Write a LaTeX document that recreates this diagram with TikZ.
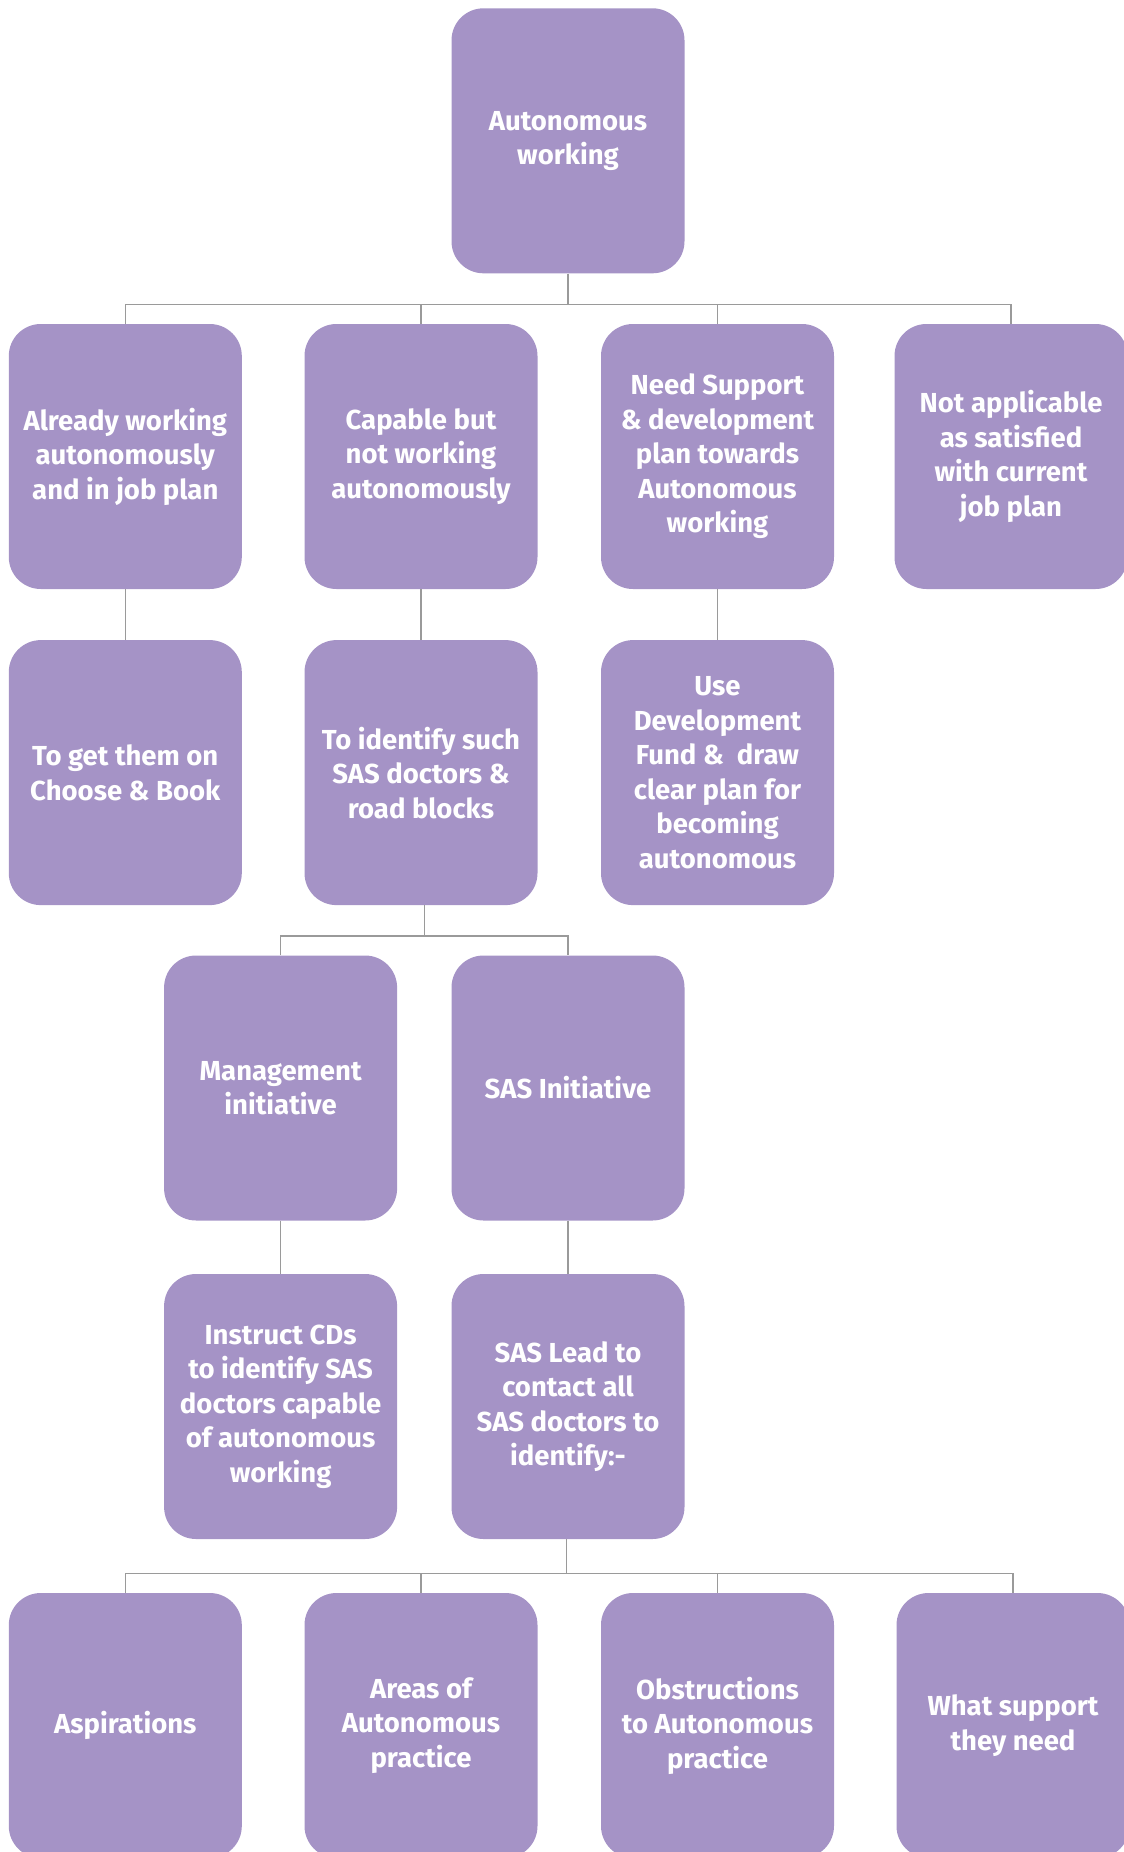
\documentclass[tikz,border=0pt]{standalone}
\usepackage{fontspec}
\setmainfont{Fira Sans}
\definecolor{boxc}{HTML}{A593C6}
\definecolor{linec}{HTML}{9A9A9A}
\tikzset{
  box/.style={rectangle, rounded corners=32pt, fill=boxc, minimum width=233pt, minimum height=265pt,
    text=white, align=center, inner sep=0pt, font=\fontsize{27.5}{34.5}\selectfont\bfseries},
  conn/.style={draw=linec, line width=1.3pt}
}
\begin{document}
\begin{tikzpicture}[x=1pt,y=-1pt]
\useasboundingbox (0,0) rectangle (1124,1852);
\clip (0,0) rectangle (1124,1852);
% row A
\node[box] (root) at (568,140.8) {Autonomous\\working};
% row B
\node[box] (b1) at (125.3,456.5) {Already working\\autonomously\\and in job plan};
\node[box] (b2) at (421,456.5) {Capable but\\not working\\autonomously};
\node[box] (b3) at (717.5,456.5) {Need Support\\\& development\\plan towards\\Autonomous\\working};
\node[box] (b4) at (1011,456.5) {Not applicable\\as satisfied\\with current\\job plan};
% row C
\node[box] (c1) at (125.3,772.6) {To get them on\\Choose \& Book};
\node[box] (c2) at (421,772.6) {To identify such\\SAS doctors \&\\road blocks};
\node[box] (c3) at (717.5,772.6) {Use\\Development\\Fund \&\ \ draw\\clear plan for\\becoming\\autonomous};
% row D
\node[box] (d1) at (280.6,1088) {Management\\initiative};
\node[box] (d2) at (568,1088) {SAS Initiative};
% row E
\node[box] (e1) at (280.6,1406.5) {Instruct CDs\\to identify SAS\\doctors capable\\of autonomous\\working};
\node[box] (e2) at (568,1406.5) {SAS Lead to\\contact all\\SAS doctors to\\identify:-};
% row F
\node[box] (f1) at (125.3,1725.5) {Aspirations};
\node[box] (f2) at (421,1725.5) {Areas of\\Autonomous\\practice};
\node[box] (f3) at (717.5,1725.5) {Obstructions\\to Autonomous\\practice};
\node[box] (f4) at (1013,1725.5) {What support\\they need};
% connectors A -> B
\coordinate (busA) at (568,304.6);
\draw[conn] (root.south) -- (busA);
\draw[conn] (b1.north) -- (b1.north |- busA) -- (b4.north |- busA) -- (b4.north);
\draw[conn] (b2.north) -- (b2.north |- busA);
\draw[conn] (b3.north) -- (b3.north |- busA);
% B -> C
\draw[conn] (b1.south) -- (c1.north);
\draw[conn] (b2.south) -- (c2.north);
\draw[conn] (b3.south) -- (c3.north);
% C -> D
\coordinate (busC) at (424.5,936);
\draw[conn] (c2.south -| busC) -- (busC);
\draw[conn] (d1.north) -- (d1.north |- busC) -- (d2.north |- busC) -- (d2.north);
% D -> E
\draw[conn] (d1.south) -- (e1.north);
\draw[conn] (d2.south) -- (e2.north);
% E -> F
\coordinate (busE) at (566.7,1573.5);
\draw[conn] (e2.south -| busE) -- (busE);
\draw[conn] (f1.north) -- (f1.north |- busE) -- (f4.north |- busE) -- (f4.north);
\draw[conn] (f2.north) -- (f2.north |- busE);
\draw[conn] (f3.north) -- (f3.north |- busE);
\end{tikzpicture}
\end{document}
